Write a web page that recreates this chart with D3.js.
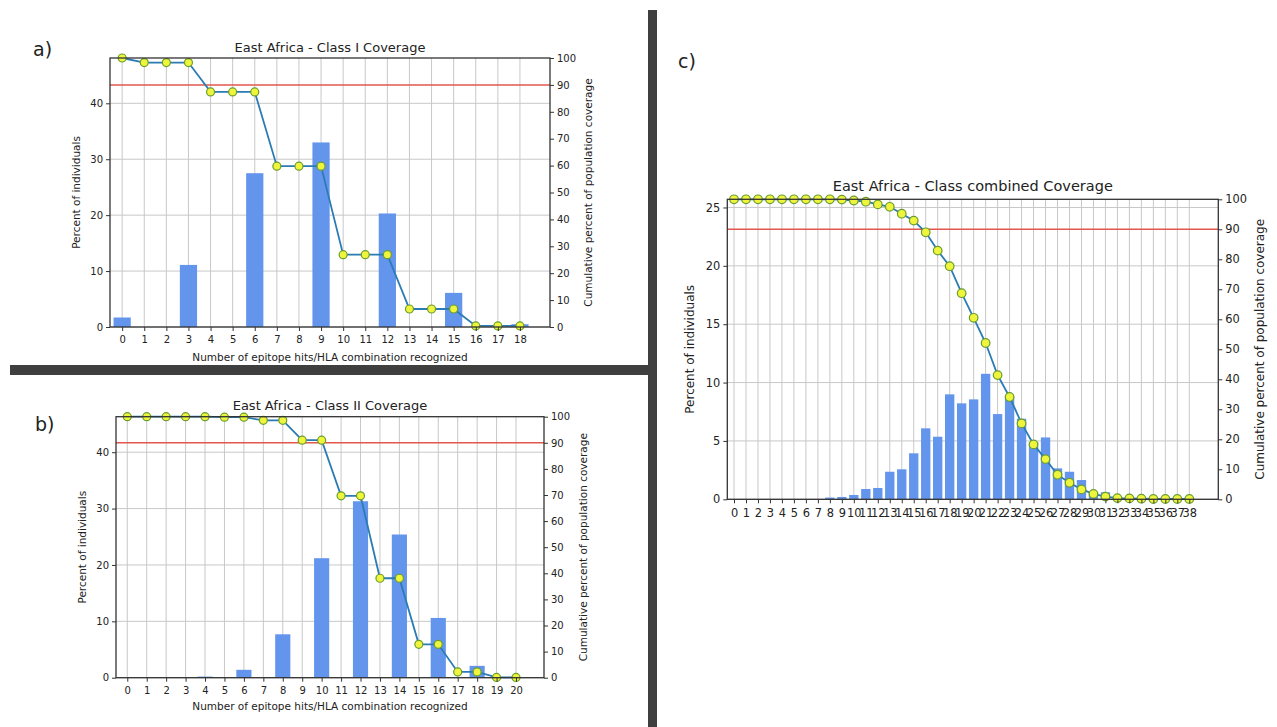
<!DOCTYPE html>
<html>
<head>
<meta charset="utf-8">
<script src="https://cdn.jsdelivr.net/npm/d3@7"></script>
<style>
  body { margin: 0; background: #fff; }
  svg { font-family: "DejaVu Sans", sans-serif; }
</style>
</head>
<body>
<div class="chart"></div>
<script>
const width = 1277, height = 727;

// panel a - class I
const hitsA = [0,1,2,3,4,5,6,7,8,9,10,11,12,13,14,15,16,17,18];
const pctA = [1.7,0,0,11.1,0,0,27.5,0,0,33.0,0,0,20.3,0,0,6.1,0,0,0.5];
const cumA = [100,98.3,98.3,98.3,87.4,87.4,87.4,59.8,59.8,59.8,26.9,26.9,26.9,6.7,6.7,6.7,0.4,0.4,0.4];

// panel b - class II
const hitsB = [0,1,2,3,4,5,6,7,8,9,10,11,12,13,14,15,16,17,18,19,20];
const pctB = [0,0,0,0,0.2,0,1.4,0,7.7,0,21.2,0,31.3,0,25.4,0,10.6,0,2.1,0,0.1];
const cumB = [100,100,100,100,100,99.8,99.8,98.6,98.6,91.0,91.0,69.7,69.7,38.1,38.1,12.8,12.8,2.2,2.2,0.1,0.1];

// panel c - combined
const hitsC = d3.range(0, 39);
const pctC = [0,0,0,0,0,0,0,0,0.15,0.2,0.37,0.88,0.97,2.36,2.57,3.94,6.08,5.36,8.99,8.22,
              8.56,10.75,7.3,8.8,6.9,4.9,5.3,2.65,2.36,1.65,0.6,0.6,0.2,0.1,0.05,0,0,0,0];
const cumC = [100,100,100,100,100,100,100,100,100,99.9,99.6,99.2,98.3,97.5,95.2,92.9,89.0,82.9,77.7,68.7,
              60.5,52.1,41.4,34.1,25.3,18.3,13.4,8.2,5.5,3.3,1.8,0.9,0.4,0.3,0.2,0.1,0.1,0.1,0.1];

const leftTicksAB = [0,10,20,30,40];
const leftTicksC = [0,5,10,15,20,25];
const rightTicks = [0,10,20,30,40,50,60,70,80,90,100];
const threshold = 90;

const svg = d3.select(".chart")
    .append("svg")
    .attr("width", width)
    .attr("height", height)
    .attr("viewBox", [0, 0, width, height]);

svg.append("rect").attr("width", width).attr("height", height).attr("fill", "#fff");

// panel separators
svg.append("rect").attr("x", 648).attr("y", 10).attr("width", 9).attr("height", height - 10).attr("fill", "#3f3f3f");
svg.append("rect").attr("x", 10).attr("y", 365).attr("width", 640).attr("height", 10).attr("fill", "#3f3f3f");

function drawPanel(p) {
    const g = svg.append("g");
    const x = d3.scaleLinear().domain(p.xDomain).range([p.left, p.right]);
    const y = d3.scaleLinear().domain([0, p.yMax]).range([p.bottom, p.top]);
    const y2 = d3.scaleLinear().domain([0, 100]).range([p.bottom, p.top]);
    const step = x(1) - x(0);
    const bw = step * 0.78;

    // grid
    g.selectAll(".vgrid").data(p.hits).join("line")
        .attr("x1", d => x(d)).attr("x2", d => x(d))
        .attr("y1", p.top).attr("y2", p.bottom)
        .attr("stroke", "#c8c8c8").attr("stroke-width", 1);
    g.selectAll(".hgrid").data(p.leftTicks).join("line")
        .attr("x1", p.left).attr("x2", p.right)
        .attr("y1", d => y(d)).attr("y2", d => y(d))
        .attr("stroke", "#c8c8c8").attr("stroke-width", 1);

    // bars
    g.append("g").selectAll("rect").data(p.pct).join("rect")
        .attr("x", (d, i) => x(p.hits[i]) - bw / 2)
        .attr("y", d => y(d))
        .attr("width", bw)
        .attr("height", d => p.bottom - y(d))
        .attr("fill", "#6495ed");

    // 90% line
    g.append("line")
        .attr("x1", p.left).attr("x2", p.right)
        .attr("y1", y2(threshold)).attr("y2", y2(threshold))
        .attr("stroke", "#e2564c").attr("stroke-width", 1.5);

    // cumulative line
    const line = d3.line().x((d, i) => x(p.hits[i])).y(d => y2(d));
    g.append("path").datum(p.cum)
        .attr("d", line)
        .attr("fill", "none")
        .attr("stroke", "#2b7bb4")
        .attr("stroke-width", 1.8);
    g.append("g").selectAll("circle").data(p.cum).join("circle")
        .attr("cx", (d, i) => x(p.hits[i]))
        .attr("cy", d => y2(d))
        .attr("r", p.r)
        .attr("fill", "#eef53c")
        .attr("stroke", "#6a9d2e")
        .attr("stroke-width", 1.2);

    // axes
    const ax = g.append("g").attr("transform", `translate(0,${p.bottom})`)
        .call(d3.axisBottom(x).tickValues(p.hits).tickFormat(d3.format("d")).tickSize(4).tickSizeOuter(0));
    const al = g.append("g").attr("transform", `translate(${p.left},0)`)
        .call(d3.axisLeft(y).tickValues(p.leftTicks).tickSize(4).tickSizeOuter(0));
    const ar = g.append("g").attr("transform", `translate(${p.right},0)`)
        .call(d3.axisRight(y2).tickValues(rightTicks).tickSize(4).tickSizeOuter(0));
    [ax, al, ar].forEach(a => {
        a.select(".domain").remove();
        a.selectAll(".tick line").attr("stroke", "#333");
        a.selectAll("text").attr("fill", "#222").style("font-size", p.tickFont + "px")
            .style("font-family", "DejaVu Sans");
    });
    ax.selectAll("text").attr("dy", "0.71em").attr("y", p.xTickPad);
    al.selectAll("text").attr("x", -7);
    ar.selectAll("text").attr("x", 7);

    // frame
    g.append("rect")
        .attr("x", p.left).attr("y", p.top)
        .attr("width", p.right - p.left).attr("height", p.bottom - p.top)
        .attr("fill", "none").attr("stroke", "#333").attr("stroke-width", 1.3);

    // texts
    g.append("text")
        .attr("x", (p.left + p.right) / 2).attr("y", p.titleY)
        .attr("text-anchor", "middle")
        .style("font-size", p.titleFont + "px").attr("fill", "#222")
        .text(p.title);
    g.append("text")
        .attr("x", p.tagX).attr("y", p.tagY)
        .style("font-size", "19px").attr("fill", "#222")
        .text(p.tag);
    if (p.xLabel) {
        g.append("text")
            .attr("x", (p.left + p.right) / 2).attr("y", p.xLabelY)
            .attr("text-anchor", "middle")
            .style("font-size", p.labelFont + "px").attr("fill", "#222")
            .text(p.xLabel);
    }
    const mid = (p.top + p.bottom) / 2;
    g.append("text")
        .attr("transform", `translate(${p.yLabelX},${mid}) rotate(-90)`)
        .attr("text-anchor", "middle").attr("dy", "0.35em")
        .style("font-size", p.labelFont + "px").attr("fill", "#222")
        .text("Percent of individuals");
    g.append("text")
        .attr("transform", `translate(${p.y2LabelX},${mid}) rotate(-90)`)
        .attr("text-anchor", "middle").attr("dy", "0.35em")
        .style("font-size", p.labelFont + "px").attr("fill", "#222")
        .text("Cumulative percent of population coverage");
}

drawPanel({
    hits: hitsA, pct: pctA, cum: cumA, leftTicks: leftTicksAB,
    left: 110, right: 550, top: 58, bottom: 327, yMax: 48.1, xDomain: [-0.55, 19.36],
    title: "East Africa - Class I Coverage", titleY: 52, titleFont: 13,
    tag: "a)", tagX: 33, tagY: 56,
    xLabel: "Number of epitope hits/HLA combination recognized", xLabelY: 361,
    yLabelX: 76, y2LabelX: 588, tickFont: 10, labelFont: 10.5, r: 4, xTickPad: 9
});

drawPanel({
    hits: hitsB, pct: pctB, cum: cumB, leftTicks: leftTicksAB,
    left: 116, right: 544, top: 416.7, bottom: 677.7, yMax: 46.3, xDomain: [-0.58, 21.44],
    title: "East Africa - Class II Coverage", titleY: 410, titleFont: 13,
    tag: "b)", tagX: 35, tagY: 431,
    xLabel: "Number of epitope hits/HLA combination recognized", xLabelY: 710,
    yLabelX: 82, y2LabelX: 583, tickFont: 10, labelFont: 10.5, r: 4, xTickPad: 9
});

drawPanel({
    hits: hitsC, pct: pctC, cum: cumC, leftTicks: leftTicksC,
    left: 727.3, right: 1218.3, top: 199.3, bottom: 499.3, yMax: 25.7, xDomain: [-0.56, 40.42],
    title: "East Africa - Class combined Coverage", titleY: 191, titleFont: 14.5,
    tag: "c)", tagX: 678, tagY: 68,
    xLabel: null,
    yLabelX: 690, y2LabelX: 1260, tickFont: 11.4, labelFont: 12, r: 4.3, xTickPad: 10
});
</script>
</body>
</html>
